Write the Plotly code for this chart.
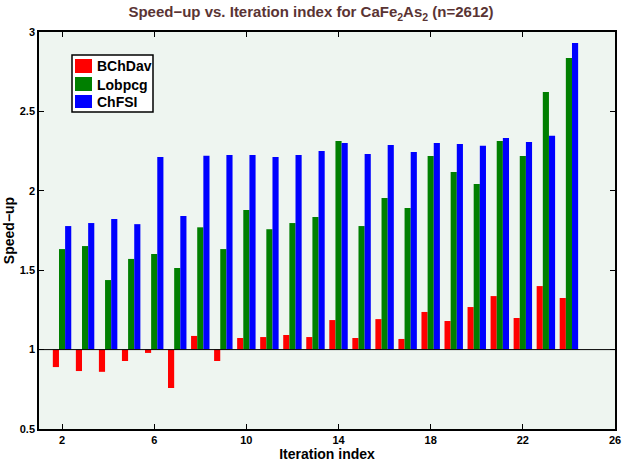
import plotly.graph_objects as go

iterations = list(range(2, 25))
bchdav = [0.89, 0.865, 0.86, 0.928, 0.979, 0.758, 1.086, 0.928, 1.073, 1.079, 1.092, 1.079,
          1.186, 1.073, 1.192, 1.067, 1.237, 1.180, 1.268, 1.337, 1.199, 1.400, 1.325]
lobpcg = [1.633, 1.652, 1.438, 1.571, 1.602, 1.514, 1.770, 1.633, 1.879, 1.758, 1.797, 1.835,
          2.314, 1.778, 1.954, 1.892, 2.219, 2.118, 2.043, 2.314, 2.219, 2.622, 2.836]
chfsi = [1.778, 1.797, 1.822, 1.790, 2.213, 1.841, 2.220, 2.226, 2.226, 2.213, 2.226, 2.251,
         2.301, 2.232, 2.289, 2.245, 2.301, 2.295, 2.283, 2.333, 2.308, 2.346, 2.930]
series_names = ["BChDav", "Lobpcg", "ChFSI"]
series_colors = ["#ff0000", "#007f00", "#0000ff"]
x_ticks = [2, 6, 10, 14, 18, 22, 26]
y_ticks = [0.5, 1, 1.5, 2, 2.5, 3]
baseline = 1

W, H = 622, 464
L, R, T, B = 39, 7, 32, 35
pw, ph = W - L - R, H - T - B


def px(x):
    return (x - L) / pw


def py(y):
    return (H - B - y) / ph


fig = go.Figure()
for name, vals, col in zip(series_names, [bchdav, lobpcg, chfsi], series_colors):
    fig.add_trace(go.Bar(x=iterations, y=[v - baseline for v in vals], base=baseline,
                         name=name, marker=dict(color=col, line=dict(width=0))))

fig.add_shape(type="line", xref="paper", x0=0, x1=1, yref="y", y0=baseline, y1=baseline,
              line=dict(color="black", width=1))

font_b = "Liberation Sans, Arial, sans-serif"

# legend drawn as a boxed key (MATLAB style)
fig.add_shape(type="rect", xref="paper", yref="paper", x0=px(72), x1=px(153), y0=py(112), y1=py(55),
              fillcolor="white", line=dict(color="black", width=1.5), layer="above")
rows = [(59, 73), (77, 91), (95, 108)]
for (ya, yb), name, col in zip(rows, series_names, series_colors):
    fig.add_shape(type="rect", xref="paper", yref="paper", x0=px(75), x1=px(92), y0=py(yb), y1=py(ya),
                  fillcolor=col, line=dict(width=0), layer="above")
    fig.add_annotation(xref="paper", yref="paper", x=px(95), y=py((ya + yb) / 2 + 0.5),
                       xanchor="left", yanchor="middle", showarrow=False,
                       text=f"<b>{name}</b>", font=dict(size=14, family=font_b, color="black"))

fig.update_layout(
    width=W, height=H,
    margin=dict(l=L, r=R, t=T, b=B, autoexpand=False),
    barmode="group", bargap=0.2, bargroupgap=0,
    plot_bgcolor="#eef5f0", paper_bgcolor="white",
    font=dict(family=font_b, color="black", size=11),
    title=dict(text="<b>Speed−up vs. Iteration index for CaFe<sub>2</sub>As<sub>2</sub> (n=2612)</b>",
               x=0.5, xanchor="center", y=0.985, yanchor="top", automargin=False,
               font=dict(size=15, color="#5a3434", family=font_b)),
    showlegend=False,
)
fig.update_xaxes(range=[1, 26], tickvals=x_ticks, ticktext=[f"<b>{t}</b>" for t in x_ticks],
                 ticks="inside", ticklen=5, tickcolor="black", showline=True, linecolor="black",
                 linewidth=1.5, mirror="ticks", showgrid=False, zeroline=False,
                 automargin=False, ticklabeloverflow="allow",
                 title=dict(text="<b>Iteration index</b>", standoff=0, font=dict(size=14)))
fig.update_yaxes(range=[0.5, 3], tickvals=y_ticks, ticktext=["<b>0.5</b>", "<b>1</b>", "<b>1.5</b>", "<b>2</b>", "<b>2.5</b>", "<b>3</b>"],
                 ticks="inside", ticklen=5, tickcolor="black", showline=True, linecolor="black",
                 linewidth=1.5, mirror="ticks", showgrid=False, zeroline=False, automargin=False,
                 title=dict(text="<b>Speed−up</b>", standoff=2, font=dict(size=14)))

fig.write_html("out.html", config={"displayModeBar": False},
               post_script="document.body.style.margin='0';document.body.style.padding='0';document.body.style.overflow='hidden';")
